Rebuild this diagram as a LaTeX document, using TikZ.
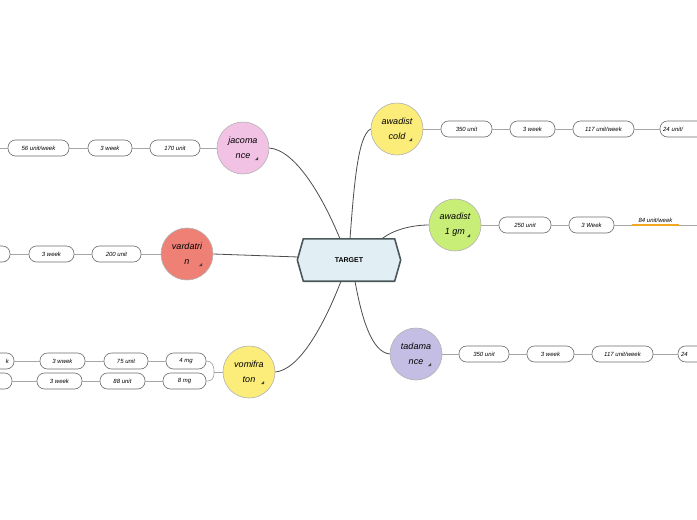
\documentclass[tikz,border=0pt]{standalone}
\usepackage{fontspec}
\setmainfont{Liberation Sans}
\usetikzlibrary{calc}
\definecolor{cpink}{RGB}{242,194,229}
\definecolor{csalmon}{RGB}{238,128,118}
\definecolor{cyellow}{RGB}{252,236,122}
\definecolor{cgreen}{RGB}{200,238,120}
\definecolor{clav}{RGB}{197,190,228}
\definecolor{chexfill}{RGB}{225,238,243}
\definecolor{chexline}{RGB}{74,88,92}
\definecolor{corange}{RGB}{245,166,35}
\begin{document}
\begin{tikzpicture}[x=1pt,y=-1pt,
 pill/.style={draw=gray!85!black, line width=0.6pt, rounded corners=7.5pt, minimum height=16pt, fill=white, font=\fontsize{6}{7}\selectfont\itshape, inner sep=1pt},
 topic/.style={circle, draw=gray!60, line width=0.6pt, minimum size=52pt, inner sep=0pt, align=center, font=\fontsize{9}{15}\selectfont\itshape},
 link/.style={draw=gray!70, line width=0.7pt},
 branch/.style={draw=black!70, line width=0.8pt},
 tri/.style={fill=black!75}
 ]
\useasboundingbox (0,0) rectangle (697,520);
\clip (0,0) rectangle (697,520);
\fill[white] (0,0) rectangle (697,520);

% central hexagon
\node (t) at (349,260) [minimum width=103pt, minimum height=42pt, inner sep=0pt] {};
\draw[chexline, fill=chexfill, line width=1.6pt, line join=round]
  ($(t.west)$) -- ($(t.north west)+(6,0)$) -- ($(t.north east)+(-6,0)$) -- (t.east)
  -- ($(t.south east)+(-6,0)$) -- ($(t.south west)+(6,0)$) -- cycle;
\node[font=\fontsize{7}{8}\selectfont\bfseries] (tl) at (t) {TARGET};

% topics
\node[topic, fill=cpink] (jac) at (243,148) {jacoma\\nce\hspace{6pt}};
\node[topic, fill=csalmon] (var) at (187,254) {vardatri\\n\hspace{10pt}};
\node[topic, fill=cyellow] (vom) at (249,372) {vomifra\\ton\hspace{6pt}};
\node[topic, fill=cyellow] (awc) at (397,129) {awadist\\cold\hspace{6pt}};
\node[topic, fill=cgreen] (awg) at (455,225) {awadist\\1 gm\hspace{6pt}};
\node[topic, fill=clav] (tad) at (416,354) {tadama\\nce\hspace{6pt}};

\foreach \n in {jac,var,vom,awc,awg,tad}
  \fill[tri] ($(\n)+(12,12)$) -- ++(3,0) -- ++(0,-3) -- cycle;

% branches from TARGET
\draw[branch] ($(t.north)+(-9,0)$) .. controls (322,195) and (295,150) .. (jac.east);
\draw[branch] ($(t.north)+(1,0)$) .. controls (354,185) and (358,135) .. (awc.west);
\draw[branch] ($(t.north)+(33,0)$) .. controls (394,229) and (414,225) .. (awg.west);
\draw[branch] ($(t.west)+(1,-3)$) -- (var.east);
\draw[branch] ($(t.south)+(-8,0)$) .. controls (322,330) and (298,370) .. (vom.east);
\draw[branch] ($(t.south)+(6,0)$) .. controls (362,320) and (372,352) .. (tad.west);

% jacomance chain
\node[pill, minimum width=50pt] (j1) at (175,148) {170 unit};
\node[pill, minimum width=44pt] (j2) at (110,148) {3 week};
\node[pill, minimum width=61pt] (j3) at (38.5,148) {56 unit/week};
\coordinate (j4) at (-20,148);
\draw[link] (jac) -- (j1) (j1) -- (j2) (j2) -- (j3) (j3) -- (j4);

% vardatrin chain
\node[pill, minimum width=49pt] (v1) at (116.5,254) {200 unit};
\node[pill, minimum width=45pt] (v2) at (51.5,254) {3 week};
\node[pill, minimum width=50pt] (v3) at (-15,254) {};
\draw[link] (var) -- (v1) (v1) -- (v2) (v2) -- (v3);

% vomifraton chains
\node[pill, minimum width=40pt] (m1) at (186,361) {4 mg};
\node[pill, minimum width=44pt] (m2) at (126,361) {75 unit};
\node[pill, minimum width=45pt] (m3) at (62.5,361) {3 wwek};
\node[pill, minimum width=58pt, text width=48pt, align=right] (m4) at (-15,361) {k\hspace*{4pt}};
\node[pill, minimum width=43pt] (n1) at (184.5,381) {8 mg};
\node[pill, minimum width=45pt] (n2) at (122.5,381) {88 unit};
\node[pill, minimum width=45pt] (n3) at (59.5,381) {3 week};
\node[pill, minimum width=56pt] (n4) at (-16,381) {};
\coordinate (vj) at (214,372);
\draw[link] (vom) -- (vj);
\draw[link] (vj) .. controls (214,364) and (211,361) .. (m1.east);
\draw[link] (vj) .. controls (214,380) and (211,381) .. (n1.east);
\draw[link] (m1) -- (m2) (m2) -- (m3) (m3) -- (m4);
\draw[link] (n1) -- (n2) (n2) -- (n3) (n3) -- (n4);

% awadist cold chain
\node[pill, minimum width=51pt] (c1) at (466.5,129) {350 unit};
\node[pill, minimum width=45pt] (c2) at (532.5,129) {3 week};
\node[pill, minimum width=61pt] (c3) at (603.5,129) {117 unit/week};
\node[pill, minimum width=61pt, text width=55pt, align=left] (c4) at (690.5,129) {24 unit/};
\draw[link] (awc) -- (c1) (c1) -- (c2) (c2) -- (c3) (c3) -- (c4);

% awadist 1 gm chain
\node[pill, minimum width=52pt] (g1) at (525,225) {250 unit};
\node[pill, minimum width=45pt] (g2) at (591.5,225) {3 Week};
\node[minimum width=47pt, minimum height=0pt, inner sep=0pt] (g3) at (655.5,225) {};
\node[above=1pt, inner sep=1pt, font=\fontsize{6}{7}\selectfont\itshape] (g3t) at (g3.north) {84 unit/week};
\coordinate (g4) at (720,225);
\draw[link] (awg) -- (g1) (g1) -- (g2) (g2) -- (g3.west) (g3.east) -- (g4);
\draw[corange, line width=1.4pt] (g3.west) -- (g3.east);

% tadamance chain
\node[pill, minimum width=50pt] (d1) at (484,354) {350 unit};
\node[pill, minimum width=47pt] (d2) at (550.5,354) {3 week};
\node[pill, minimum width=61pt] (d3) at (622.5,354) {117 unit/week};
\node[pill, minimum width=61pt, text width=55pt, align=left] (d4) at (708.5,354) {24};
\draw[link] (tad) -- (d1) (d1) -- (d2) (d2) -- (d3) (d3) -- (d4);
\end{tikzpicture}
\end{document}
